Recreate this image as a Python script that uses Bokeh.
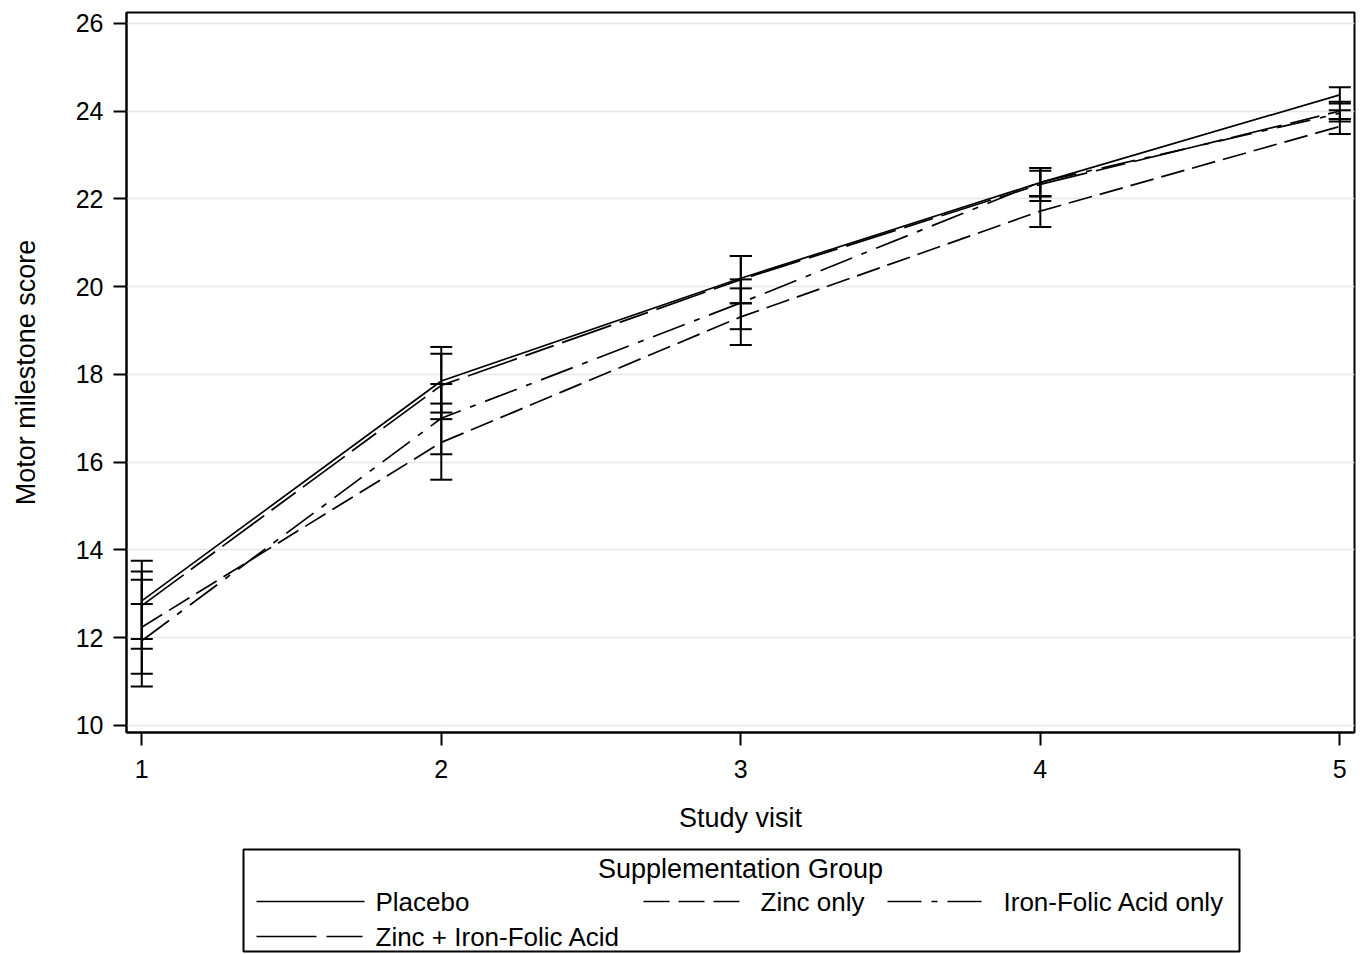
from bokeh.plotting import figure
from bokeh.models import Range1d, Whisker, TeeHead, ColumnDataSource, FixedTicker
from bokeh.layouts import column
from bokeh.embed import file_html
from bokeh.resources import INLINE
from bokeh.core.properties import value

# ---------------- data ----------------
visits = [1, 2, 3, 4, 5]
x_ticks = [1, 2, 3, 4, 5]
y_ticks = [10, 12, 14, 16, 18, 20, 22, 24, 26]

groups = ["Placebo", "Zinc only", "Iron-Folic Acid only", "Zinc + Iron-Folic Acid"]

placebo_mean = [12.84, 17.85, 20.19, 22.37, 24.37]
placebo_lo = [11.97, 17.13, 19.62, 22.06, 24.17]
placebo_hi = [13.755, 18.625, 20.70, 22.70, 24.54]

zinc_mean = [12.24, 16.45, 19.31, 21.72, 23.65]
zinc_lo = [11.18, 15.60, 18.67, 21.36, 23.48]
zinc_hi = [13.32, 17.335, 19.96, 22.06, 23.82]

ifa_mean = [11.93, 17.00, 19.63, 22.38, 23.95]
ifa_lo = [10.89, 16.18, 19.03, 22.06, 23.82]
ifa_hi = [12.77, 17.78, 20.165, 22.64, 24.02]

zinc_ifa_mean = [12.73, 17.75, 20.16, 22.33, 24.00]
zinc_ifa_lo = [11.75, 16.98, 19.62, 21.95, 23.76]
zinc_ifa_hi = [13.51, 18.47, 20.70, 22.70, 24.21]

FONT = "Liberation Sans"
dashes = ["solid", "24 8", "34 10 6 10", "52 9 30 9"]
legend_dashes = ["solid", "26 9", "34 10 6 10", "60 10 36 10"]

series = [
    (placebo_mean, placebo_lo, placebo_hi),
    (zinc_mean, zinc_lo, zinc_hi),
    (ifa_mean, ifa_lo, ifa_hi),
    (zinc_ifa_mean, zinc_ifa_lo, zinc_ifa_hi),
]

FRAME_L, FRAME_R = 126, 1354

# ---------------- main plot ----------------
p = figure(width=1363, height=845,
           x_range=Range1d(0.949, 5.049), y_range=Range1d(9.84, 26.246),
           output_backend="svg", toolbar_location=None,
           min_border_left=FRAME_L, min_border_right=1363 - FRAME_R,
           min_border_top=12, min_border_bottom=113)

p.background_fill_color = "white"
p.border_fill_color = "white"
p.outline_line_color = "black"
p.outline_line_width = 2

p.xgrid.grid_line_color = None
p.ygrid.grid_line_color = "#e6e6e6"
p.ygrid.grid_line_width = 1.5

p.xaxis.ticker = FixedTicker(ticks=x_ticks)
p.yaxis.ticker = FixedTicker(ticks=y_ticks)
p.ygrid.ticker = FixedTicker(ticks=y_ticks)

for ax in (p.xaxis[0], p.yaxis[0]):
    ax.axis_line_color = "black"
    ax.axis_line_width = 2
    ax.major_tick_line_color = "black"
    ax.major_tick_line_width = 2
    ax.major_tick_out = 13
    ax.major_tick_in = 0
    ax.minor_tick_line_color = None
    ax.major_label_text_font = FONT
    ax.major_label_text_font_size = "25px"
    ax.major_label_text_color = "black"
    ax.axis_label_text_font = FONT
    ax.axis_label_text_font_size = "27px"
    ax.axis_label_text_font_style = "normal"
    ax.axis_label_text_color = "black"

p.xaxis.axis_label = "Study visit"
p.yaxis.axis_label = "Motor milestone score"
p.xaxis.major_label_standoff = 14
p.xaxis.axis_label_standoff = 22
p.yaxis.major_label_standoff = 10
p.yaxis.axis_label_standoff = 32
p.yaxis.major_label_orientation = "horizontal"

for (m, lo, hi), d in zip(series, dashes):
    p.line(visits, m, line_color="black", line_width=1.7, line_dash=d)
    src = ColumnDataSource(dict(base=visits, lower=lo, upper=hi))
    w = Whisker(base="base", lower="lower", upper="upper", source=src,
                dimension="height", line_color="black", line_width=2,
                upper_head=TeeHead(size=22, line_color="black", line_width=2),
                lower_head=TeeHead(size=22, line_color="black", line_width=2))
    p.add_layout(w)

# ---------------- legend panel ----------------
# the column layout aligns this panel's frame with the main frame,
# so map the frame to page pixel columns FRAME_L..FRAME_R
leg = figure(width=1363, height=109,
             x_range=Range1d(FRAME_L, FRAME_R), y_range=Range1d(954, 845),
             output_backend="svg", toolbar_location=None,
             min_border_left=FRAME_L, min_border_right=1363 - FRAME_R,
             min_border_top=0, min_border_bottom=0)
leg.axis.visible = False
leg.grid.grid_line_color = None
leg.outline_line_color = None
leg.background_fill_color = "white"
leg.border_fill_color = "white"

leg.quad(left=[243], right=[1239], top=[849], bottom=[951],
         fill_color=None, line_color="black", line_width=2)
leg.text(x=[740], y=[868], text=["Supplementation Group"],
         text_align="center", text_baseline="middle",
         text_font=value(FONT), text_font_size="27px", text_color="black")

entry_pos = [(256, 364, 375, 901), (643, 740, 760, 901),
             (887, 990, 1003, 901), (256, 362, 375, 936)]
for name, d, (x0, x1, tx, yy) in zip(groups, legend_dashes, entry_pos):
    leg.line([x0, x1], [yy, yy], line_color="black", line_width=1.7, line_dash=d)
    leg.text(x=[tx], y=[yy], text=[name], text_align="left",
             text_baseline="middle", text_font=value(FONT),
             text_font_size="26px", text_color="black")

layout = column(p, leg, spacing=0)
open("out.html", "w").write(file_html(layout, INLINE))
